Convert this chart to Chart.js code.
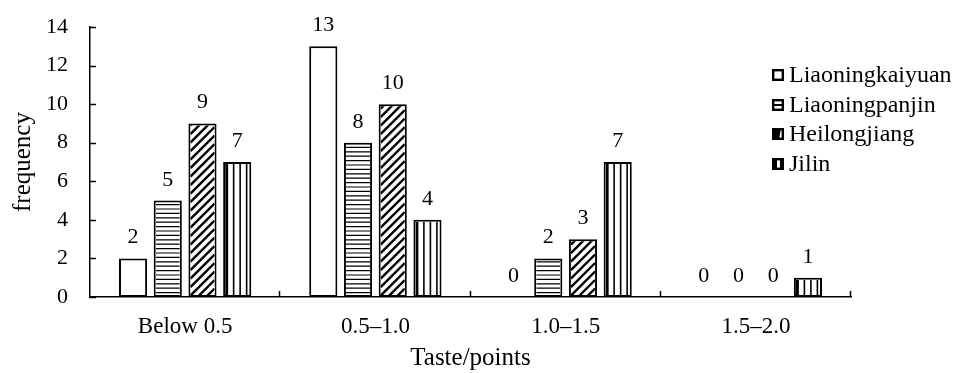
<!DOCTYPE html>
<html>
<head>
<meta charset="utf-8">
<script src="https://cdn.jsdelivr.net/npm/chart.js@4.4.0/dist/chart.umd.min.js"></script>
<style>
  html, body { margin: 0; padding: 0; background: #fff; }
  #wrap { width: 953px; height: 373px; }
</style>
</head>
<body>
<div id="wrap"><canvas id="myChart"></canvas></div>
<script>
const categories = ["Below 0.5", "0.5\u20131.0", "1.0\u20131.5", "1.5\u20132.0"];
const seriesNames = ["Liaoningkaiyuan", "Liaoningpanjin", "Heilongjiang", "Jilin"];
const kaiyuan = [2, 13, 0, 0];
const panjin = [5, 8, 2, 0];
const heilongjiang = [9, 10, 3, 0];
const jilin = [7, 4, 7, 1];
const yMax = 14;
const yStep = 2;
const hatches = ["none", "horizontal", "diagonal", "vertical"];

const FONT = "'Liberation Serif', 'Times New Roman', serif";

// fills the inside of a rectangle with the series' line pattern
function drawHatch(ctx, kind, x0, y0, x1, y1) {
  if (x1 - x0 <= 0 || y1 - y0 <= 0) return;
  ctx.save();
  ctx.beginPath();
  ctx.rect(x0, y0, x1 - x0, y1 - y0);
  ctx.clip();
  ctx.strokeStyle = "#000";
  ctx.fillStyle = "#000";
  if (kind === "horizontal") {
    ctx.lineWidth = 1.2;
    for (let y = y1 - 4.4; y > y0; y -= 4.4) {
      ctx.beginPath();
      ctx.moveTo(x0, y);
      ctx.lineTo(x1, y);
      ctx.stroke();
    }
  } else if (kind === "diagonal") {
    ctx.lineWidth = 2.4;
    const w = x1 - x0;
    for (let k = 0; k < (y1 - y0) + w; k += 8.5) {
      ctx.beginPath();
      ctx.moveTo(x0, y1 - k + w);
      ctx.lineTo(x1, y1 - k);
      ctx.stroke();
    }
  } else if (kind === "vertical") {
    ctx.fillRect(x0, y0, 3, y1 - y0);
    ctx.lineWidth = 1.6;
    for (let x = x0 + 8.5; x < x1 - 2; x += 6.5) {
      ctx.beginPath();
      ctx.moveTo(x, y0);
      ctx.lineTo(x, y1);
      ctx.stroke();
    }
  }
  ctx.restore();
}

const hatchPlugin = {
  id: "hatch",
  afterDatasetsDraw(chart) {
    const ctx = chart.ctx;
    chart.data.datasets.forEach((ds, i) => {
      const meta = chart.getDatasetMeta(i);
      meta.data.forEach((bar) => {
        const p = bar.getProps(["x", "y", "base", "width"], true);
        const bw = 2;
        drawHatch(ctx, hatches[i], p.x - p.width / 2 + bw, p.y + bw, p.x + p.width / 2 - bw, p.base);
      });
    });
  }
};

const valueLabels = {
  id: "valueLabels",
  afterDatasetsDraw(chart) {
    const ctx = chart.ctx;
    ctx.save();
    ctx.font = "22px " + FONT;
    ctx.fillStyle = "#000";
    ctx.textAlign = "center";
    ctx.textBaseline = "alphabetic";
    chart.data.datasets.forEach((ds, i) => {
      const meta = chart.getDatasetMeta(i);
      meta.data.forEach((bar, j) => {
        ctx.fillText(String(ds.data[j]), bar.x, bar.y - 15);
      });
    });
    ctx.restore();
  }
};

// short inward tick marks on both axes
const innerTicks = {
  id: "innerTicks",
  afterDraw(chart) {
    const ctx = chart.ctx;
    const {x, y} = chart.scales;
    const area = chart.chartArea;
    ctx.save();
    ctx.strokeStyle = "#000";
    ctx.lineWidth = 1.5;
    y.ticks.forEach((t) => {
      const py = Math.round(y.getPixelForValue(t.value)) + 0.5;
      ctx.beginPath();
      ctx.moveTo(area.left, py);
      ctx.lineTo(area.left + 6, py);
      ctx.stroke();
    });
    for (let i = 1; i <= categories.length; i++) {
      const px = i < categories.length
        ? (x.getPixelForValue(i - 1) + x.getPixelForValue(i)) / 2
        : area.right;
      ctx.beginPath();
      ctx.moveTo(Math.round(px) - 0.5, area.bottom);
      ctx.lineTo(Math.round(px) - 0.5, area.bottom - 6);
      ctx.stroke();
    }
    ctx.restore();
  }
};

const boxLegend = {
  id: "boxLegend",
  afterDraw(chart) {
    const ctx = chart.ctx;
    const left = 772, top = 75, gap = 29.5, size = 12;
    ctx.save();
    ctx.font = "24px " + FONT;
    ctx.textBaseline = "middle";
    ctx.textAlign = "left";
    chart.data.datasets.forEach((ds, i) => {
      const cy = top + i * gap;
      const bx = left, by = Math.round(cy - size / 2);
      ctx.fillStyle = "#fff";
      ctx.fillRect(bx, by, size, size);
      ctx.fillStyle = "#000";
      if (hatches[i] === "horizontal") {
        ctx.fillRect(bx, by + size / 2 - 1, size, 2);
      } else if (hatches[i] === "diagonal") {
        ctx.beginPath();
        ctx.moveTo(bx, by + size);
        ctx.lineTo(bx, by + 3);
        ctx.lineTo(bx + size - 3, by);
        ctx.lineTo(bx + size - 5, by + size);
        ctx.closePath();
        ctx.fill();
      } else if (hatches[i] === "vertical") {
        ctx.fillRect(bx, by, 5, size);
        ctx.fillRect(bx + size - 4, by, 4, size);
      }
      ctx.strokeStyle = "#000";
      ctx.lineWidth = 2.4;
      ctx.strokeRect(bx + 1.2, by + 1.2, size - 2.4, size - 2.4);
      ctx.fillText(ds.label, bx + size + 5, cy + 1);
    });
    ctx.restore();
  }
};

const series = [kaiyuan, panjin, heilongjiang, jilin];

const data = {
  labels: categories,
  datasets: series.map((values, i) => ({
    label: seriesNames[i],
    data: values,
    backgroundColor: "#fff",
    borderColor: "#000",
    borderWidth: (c) => (c.raw === 0 ? 0 : 2),
    borderSkipped: false,
    categoryPercentage: 0.73,
    barPercentage: 0.81
  }))
};

const options = {
  responsive: false,
  animation: false,
  layout: { padding: { left: 0, right: 102, top: 27, bottom: 0 } },
  plugins: {
    legend: { display: false },
    tooltip: { enabled: false }
  },
  scales: {
    x: {
      grid: { display: false, drawTicks: false },
      border: { display: true, color: "#000", width: 1.5 },
      ticks: { color: "#000", padding: 16, font: { family: FONT, size: 23 } },
      title: {
        display: true,
        text: "Taste/points",
        color: "#000",
        padding: { top: 0, bottom: 0 },
        font: { family: FONT, size: 25 }
      },
      afterFit: (s) => { s.height = 76; }
    },
    y: {
      min: 0,
      max: yMax,
      grid: { display: false, drawTicks: false },
      border: { display: true, color: "#000", width: 1.5 },
      ticks: { stepSize: yStep, color: "#000", padding: 22, font: { family: FONT, size: 22 } },
      title: {
        display: true,
        text: "frequency",
        color: "#000",
        padding: { top: 8, bottom: 0 },
        font: { family: FONT, size: 25 }
      },
      afterFit: (s) => {
        s.width = 90;
        s.paddingTop = 0;
        s.paddingBottom = 0;
      }
    }
  }
};

const canvas = document.getElementById("myChart");
canvas.width = 953;
canvas.height = 373;
const myChart = new Chart(canvas, {
  type: "bar",
  data: data,
  options: options,
  plugins: [hatchPlugin, valueLabels, innerTicks, boxLegend]
});
</script>
</body>
</html>
